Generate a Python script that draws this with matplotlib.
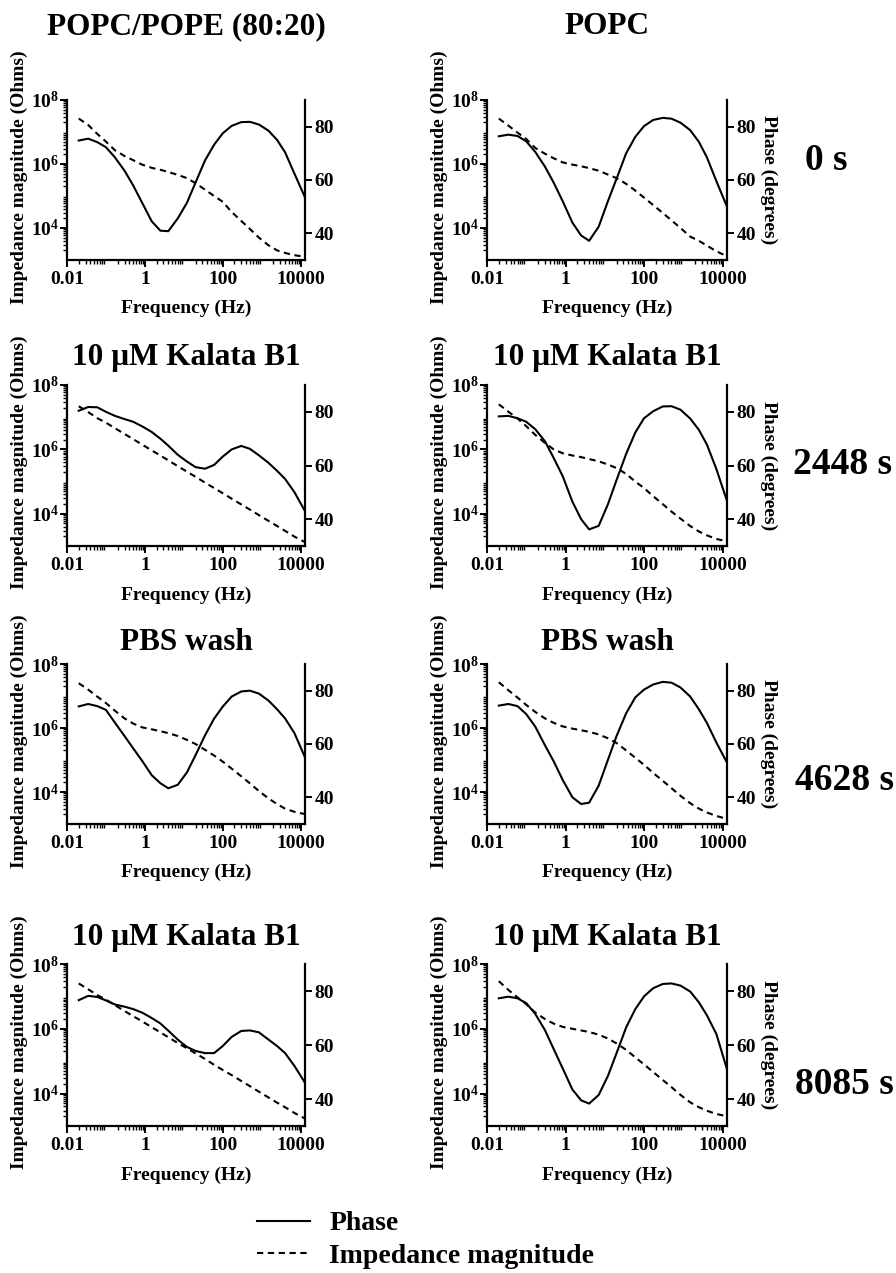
import numpy as np
import matplotlib
matplotlib.use("Agg")
import matplotlib.pyplot as plt
from matplotlib.ticker import LogLocator, NullFormatter, FixedLocator, FixedFormatter
from matplotlib.lines import Line2D

plt.rcParams['font.family'] = ['Liberation Serif', 'DejaVu Serif']
plt.rcParams['font.weight'] = 'bold'
plt.rcParams['axes.labelweight'] = 'bold'
plt.rcParams['mathtext.fontset'] = 'custom'
plt.rcParams['mathtext.rm'] = 'Liberation Serif:bold'
plt.rcParams['mathtext.it'] = 'Liberation Serif:bold'
plt.rcParams['mathtext.bf'] = 'Liberation Serif:bold'

# ---------------- data ----------------
freq_hz = [0.02, 0.035, 0.06, 0.1, 0.17, 0.3, 0.5, 0.85, 1.5, 2.5, 4, 7, 12, 20, 35,
           60, 100, 170, 300, 500, 850, 1500, 2500, 4000, 7000, 13000]

titles = ["POPC/POPE (80:20)", "POPC",
          "10 \u03bcM Kalata B1", "10 \u03bcM Kalata B1",
          "PBS wash", "PBS wash",
          "10 \u03bcM Kalata B1", "10 \u03bcM Kalata B1"]
time_labels = ["0 s", "2448 s", "4628 s", "8085 s"]

# phase (degrees)
phase_popc_pope_0 = [74.8, 75.5, 74.2, 72.3, 68.5, 63.5, 58.0, 51.5, 44.5, 41.0, 40.8, 45.6, 51.4,
                     59.0, 67.3, 73.2, 77.5, 80.3, 81.7, 81.8, 80.8, 78.5, 75.0, 70.4, 62.3, 53.5]
phase_popc_0 = [76.4, 77.0, 76.5, 74.5, 70.5, 65.0, 59.0, 52.0, 44.0, 39.2, 37.2, 42.5, 52.0,
                60.5, 70.0, 76.2, 80.2, 82.5, 83.3, 83.0, 81.5, 78.7, 74.3, 68.5, 59.5, 50.0]
phase_popc_pope_kb1 = [80.4, 81.8, 81.7, 80.0, 78.5, 77.3, 76.3, 74.6, 72.5, 70.0, 67.4, 64.0, 61.5,
                       59.4, 58.8, 60.2, 63.3, 66.0, 67.3, 66.2, 63.8, 61.0, 58.0, 55.0, 50.0, 43.0]
phase_popc_kb1 = [78.3, 78.5, 77.6, 76.3, 73.5, 69.0, 62.8, 56.0, 46.5, 40.0, 36.2, 37.5, 45.5,
                  54.6, 64.3, 72.3, 77.6, 80.2, 82.0, 82.1, 80.8, 77.5, 73.3, 67.8, 58.6, 46.8]
phase_popc_pope_wash = [74.1, 75.0, 74.2, 72.8, 68.0, 63.0, 58.4, 53.7, 48.3, 45.3, 43.4, 44.7, 49.3,
                        55.8, 63.2, 69.5, 74.0, 77.8, 79.7, 80.0, 78.9, 76.3, 73.0, 69.6, 64.0, 55.0]
phase_popc_wash = [74.4, 75.0, 74.2, 71.2, 66.5, 59.5, 53.5, 46.5, 40.0, 37.5, 38.0, 44.4, 54.0,
                   63.0, 71.5, 77.5, 80.4, 82.3, 83.3, 83.0, 81.2, 77.8, 73.0, 67.9, 60.5, 53.0]
phase_popc_pope_kb1b = [76.6, 78.2, 77.8, 76.5, 75.0, 74.2, 73.3, 72.0, 70.0, 68.0, 65.3, 62.0, 59.3,
                        57.8, 57.0, 57.0, 59.6, 63.0, 65.2, 65.4, 64.7, 62.0, 59.6, 57.0, 52.2, 46.0]
phase_popc_kb1b = [77.3, 77.9, 77.3, 75.5, 71.5, 65.5, 58.5, 51.3, 43.5, 39.5, 38.3, 41.5, 48.5,
                   57.0, 66.5, 73.3, 78.0, 81.0, 82.6, 82.8, 82.0, 79.8, 75.8, 71.0, 64.0, 51.0]

# impedance magnitude, log10(Ohms)
logz_popc_pope_0 = [7.42, 7.22, 6.94, 6.70, 6.43, 6.25, 6.12, 5.98, 5.88, 5.82, 5.75, 5.66, 5.56,
                    5.40, 5.20, 5.00, 4.82, 4.50, 4.22, 3.97, 3.70, 3.46, 3.30, 3.22, 3.15, 3.10]
logz_popc_0 = [7.42, 7.20, 6.98, 6.78, 6.50, 6.32, 6.18, 6.05, 5.98, 5.93, 5.87, 5.79, 5.67,
               5.56, 5.38, 5.17, 4.95, 4.72, 4.47, 4.24, 4.00, 3.73, 3.60, 3.45, 3.27, 3.12]
logz_popc_pope_kb1 = [7.34, 7.16, 6.97, 6.83, 6.66, 6.48, 6.32, 6.15, 5.97, 5.81, 5.66, 5.48, 5.31,
                      5.15, 4.97, 4.80, 4.64, 4.47, 4.29, 4.13, 3.96, 3.78, 3.62, 3.47, 3.29, 3.12]
logz_popc_kb1 = [7.40, 7.17, 6.96, 6.72, 6.45, 6.20, 6.00, 5.88, 5.81, 5.76, 5.70, 5.63, 5.53,
                 5.42, 5.24, 5.00, 4.80, 4.55, 4.30, 4.07, 3.85, 3.62, 3.45, 3.33, 3.22, 3.14]
logz_popc_pope_wash = [7.40, 7.20, 6.98, 6.78, 6.54, 6.30, 6.14, 6.02, 5.96, 5.90, 5.84, 5.75, 5.63,
                       5.50, 5.32, 5.14, 4.95, 4.73, 4.49, 4.27, 4.03, 3.80, 3.62, 3.48, 3.38, 3.31]
logz_popc_wash = [7.43, 7.18, 6.95, 6.72, 6.50, 6.30, 6.16, 6.05, 5.98, 5.93, 5.88, 5.80, 5.68,
                  5.53, 5.30, 5.07, 4.85, 4.60, 4.35, 4.12, 3.88, 3.65, 3.48, 3.36, 3.25, 3.16]
logz_popc_pope_kb1b = [7.40, 7.22, 7.04, 6.90, 6.73, 6.55, 6.39, 6.23, 6.05, 5.89, 5.74, 5.56, 5.40,
                       5.24, 5.07, 4.89, 4.73, 4.57, 4.39, 4.23, 4.06, 3.88, 3.72, 3.58, 3.40, 3.23]
logz_popc_kb1b = [7.47, 7.20, 6.97, 6.76, 6.50, 6.30, 6.16, 6.06, 6.00, 5.95, 5.90, 5.82, 5.70,
                  5.55, 5.35, 5.12, 4.90, 4.67, 4.42, 4.20, 3.96, 3.73, 3.58, 3.47, 3.37, 3.30]

phases = [phase_popc_pope_0, phase_popc_0, phase_popc_pope_kb1, phase_popc_kb1,
          phase_popc_pope_wash, phase_popc_wash, phase_popc_pope_kb1b, phase_popc_kb1b]
logzs = [logz_popc_pope_0, logz_popc_0, logz_popc_pope_kb1, logz_popc_kb1,
         logz_popc_pope_wash, logz_popc_wash, logz_popc_pope_kb1b, logz_popc_kb1b]

# ---------------- layout ----------------
W, H = 896, 1273
fig = plt.figure(figsize=(W / 100, H / 100), dpi=100)

col_x = [(67, 305), (487, 727)]
row_y = [(100, 260), (385, 546), (664, 824), (964, 1126)]
title_y = [27, 357, 643, 938]
time_y = [160, 465, 780, 1085]
time_x = [826, 842, 844, 844]

LW = 1.5
DASH = (3.0, 2.2)
TICK_FS = 14
LABEL_FS = 14

for i in range(8):
    r, c = divmod(i, 2)
    x0, x1 = col_x[c]
    y0, y1 = row_y[r]
    ax = fig.add_axes([x0 / W, 1 - y1 / H, (x1 - x0) / W, (y1 - y0) / H])
    ax2 = ax.twinx()

    f = np.array(freq_hz)
    z = 10 ** np.array(logzs[i])
    ax.plot(f, z, color='black', lw=LW, ls=(0, DASH))
    ax2.plot(f, phases[i], color='black', lw=LW, ls='-')

    ax.set_xscale('log')
    ax.set_yscale('log')
    ax.set_xlim(0.01, 13000)
    ax.set_ylim(1e3, 1e8)
    ax2.set_ylim(30, 90)

    ax.xaxis.set_major_locator(FixedLocator([0.01, 1, 100, 10000]))
    ax.xaxis.set_major_formatter(FixedFormatter(['0.01', '1', '100', '10000']))
    ax.xaxis.set_minor_locator(LogLocator(base=10, subs=np.arange(2, 10), numticks=20))
    ax.xaxis.set_minor_formatter(NullFormatter())
    ax.yaxis.set_major_locator(FixedLocator([1e4, 1e6, 1e8]))
    ax.yaxis.set_major_formatter(FixedFormatter([r'$10^{4}$', r'$10^{6}$', r'$10^{8}$']))
    ax.yaxis.set_minor_locator(LogLocator(base=10, subs=np.arange(2, 10), numticks=20))
    ax.yaxis.set_minor_formatter(NullFormatter())
    ax2.set_yticks([40, 60, 80])
    ax2.set_yticklabels(['40', '60', '80'])

    for a in (ax, ax2):
        for s in a.spines.values():
            s.set_linewidth(1.6)
        a.spines['top'].set_visible(False)
    ax.spines['right'].set_visible(False)
    ax2.spines['left'].set_visible(False)
    ax2.spines['bottom'].set_visible(False)

    ax.tick_params(axis='x', which='major', direction='out', length=5, width=1.4,
                   labelsize=TICK_FS, pad=3)
    ax.tick_params(axis='y', which='major', direction='out', length=5, width=1.4,
                   labelsize=TICK_FS, pad=1)
    ax.tick_params(which='minor', direction='out', length=3, width=1.0)
    ax2.tick_params(which='major', direction='out', length=5, width=1.4, labelsize=TICK_FS, pad=2)

    ax.set_xlabel('Frequency (Hz)', fontsize=LABEL_FS, fontweight='bold')
    ax.xaxis.set_label_coords(0.5, -0.25)
    ax.set_ylabel('Impedance magnitude (Ohms)', fontsize=LABEL_FS, fontweight='bold')
    ax.yaxis.set_label_coords(-0.162, 0.52)
    if c == 1:
        ax2.set_ylabel('Phase (degrees)', fontsize=LABEL_FS, fontweight='bold', rotation=270,
                       va='center')
        ax2.yaxis.set_label_coords(1.172, 0.5)

    fig.text((x0 + x1) / 2 / W, 1 - title_y[r] / H, titles[i], ha='center', va='center',
             fontsize=22.5, fontweight='bold')

for r in range(4):
    fig.text(time_x[r] / W, 1 - time_y[r] / H, time_labels[r], ha='center', va='center',
             fontsize=27, fontweight='bold')

handles = [Line2D([], [], color='black', lw=LW, ls='-'),
           Line2D([], [], color='black', lw=LW, ls=(0, DASH))]
fig.legend(handles, ['Phase', 'Impedance magnitude'], loc='upper left',
           bbox_to_anchor=(257 / W, 1 - 1211 / H), frameon=False,
           handlelength=1.9, handletextpad=0.7, labelspacing=0.25, borderpad=0,
           borderaxespad=0, prop={'weight': 'bold', 'size': 20})

fig.savefig('out.png', dpi=100)
